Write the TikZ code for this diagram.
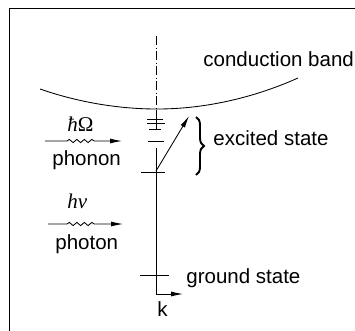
\documentclass[tikz,border=0pt]{standalone}
\usepackage{fontspec}
\setmainfont{Liberation Sans}
\newfontfamily\symfont{Liberation Serif}
\usetikzlibrary{arrows.meta,decorations.pathmorphing,decorations.pathreplacing}
\begin{document}
\begin{tikzpicture}[x=1pt,y=-1pt, line width=0.85pt,
  txt/.style={font=\fontsize{20.5}{24}\selectfont, inner sep=0pt, anchor=base west},
  mth/.style={font=\symfont\fontsize{21}{24}\selectfont, inner sep=0pt, anchor=base west},
  tip/.style={-{Latex[length=12pt,width=5pt]}},
  wave/.style={tip, decorate, decoration={snake, amplitude=1.6pt, segment length=7.5pt, pre length=22pt, post length=25pt}}]
\useasboundingbox (0,0) rectangle (355,330);
\clip (0,0) rectangle (355,330);
% frame
\draw[line width=1.4pt] (9.5,345) -- (9.5,8.5) -- (365,8.5);
% axis
\coordinate (axtop) at (156,36);
\coordinate (axband) at (156,110);
\coordinate (axmid) at (156,129);
\coordinate (axlow) at (156,148);
\coordinate (axbot) at (156,294);
\coordinate (kend) at (183,294);
\draw[dash pattern=on 9pt off 2.5pt on 1pt off 2.5pt] (axtop) -- (axband);
\draw (axband) -- (axmid);
\draw (axlow) -- (axbot);
\draw[tip] (axbot) -- (kend);
% conduction band
\coordinate (cbL) at (40,89);
\coordinate (cbM) at (157,109);
\coordinate (cbR) at (298,78);
\draw (cbL) parabola bend (cbM) (cbR);
% shallow levels
\foreach \y/\a/\b in {119/147/163, 123.5/147/165, 129/149/161, 141/148/164}
  \draw (\a,\y) -- (\b,\y);
% excited and ground levels
\coordinate (exL) at (141,172);
\coordinate (exR) at (165,172);
\coordinate (grL) at (140,275);
\coordinate (grR) at (169,275);
\draw (exL) -- (exR);
\draw (grL) -- (grR);
% transition arrow
\coordinate (trA) at (156,171);
\coordinate (trB) at (189,116);
\draw[tip] (trA) -- (trB);
% brace
\coordinate (brT) at (196,117);
\coordinate (brB) at (196,175);
\draw[decorate, decoration={brace, amplitude=8pt}, line width=1.9pt] (brT) -- (brB);
% phonon / photon arrows
\coordinate (phA) at (45,141);
\coordinate (phB) at (122,141);
\coordinate (poA) at (48,224);
\coordinate (poB) at (123,224);
\draw[wave] (phA) -- (phB);
\draw[wave, decoration={pre length=19pt, post length=26pt}] (poA) -- (poB);
% texts
\node[txt] (cb) at (203,66) {conduction band};
\node[txt] (ex) at (213,145) {excited state};
\node[txt] (gs) at (186,283) {ground state};
\node[txt] (k) at (157,316) {k};
\node[txt] (phonon) at (52,165) {phonon};
\node[txt] (photon) at (55,249) {photon};
\node[mth] (hbar) at (67,131) {\itshape ħ\upshape Ω};
\node[mth] (hnu) at (67,208) {\itshape hν};
\end{tikzpicture}
\end{document}
